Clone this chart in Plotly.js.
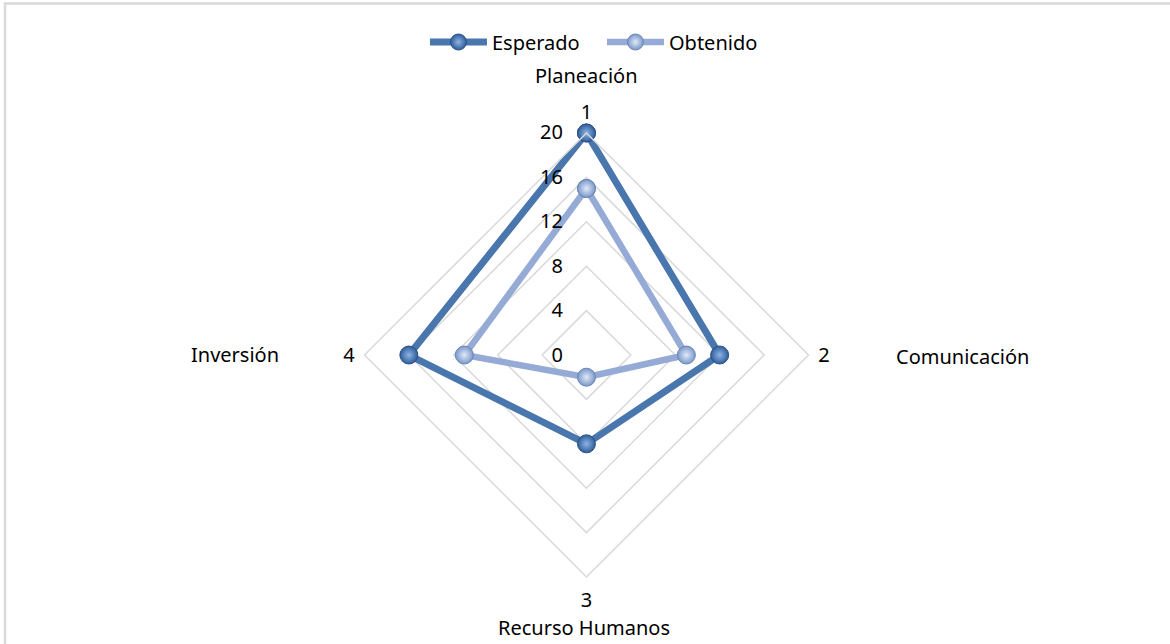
<!DOCTYPE html>
<html>
<head>
<meta charset="utf-8">
<script src="https://cdn.plot.ly/plotly-3.0.1.min.js"></script>
<style>html,body{margin:0;padding:0;background:#fff;}#chart{width:1170px;height:644px;}</style>
</head>
<body>
<div id="chart"></div>
<script>
var categories = ["1", "2", "3", "4"];
var categoryNames = ["Planeación", "Comunicación", "Recurso Humanos", "Inversión"];
var esperado = [20, 12, 8, 16];
var obtenido = [15, 9, 2, 11];
var radialTicks = [0, 4, 8, 12, 16, 20];

function closeLoop(a) { return a.concat([a[0]]); }

var FONT = "Noto Sans, Open Sans, sans-serif";

var traces = [
  {
    type: "scatterpolar",
    name: "Esperado",
    r: closeLoop(esperado),
    theta: closeLoop(categories),
    mode: "lines+markers",
    line: {color: "#4a76ae", width: 7},
    marker: {size: 18, color: "#2f5d99", line: {color: "#2a5289", width: 1},
             gradient: {type: "radial", color: "#8fb4e6"}},
    cliponaxis: false
  },
  {
    type: "scatterpolar",
    name: "Obtenido",
    r: closeLoop(obtenido),
    theta: closeLoop(categories),
    mode: "lines+markers",
    line: {color: "#95abd6", width: 6.5},
    marker: {size: 18, color: "#7b98c9", line: {color: "#6a86b6", width: 1},
             gradient: {type: "radial", color: "#dfe9f8"}},
    cliponaxis: false
  }
];

var pos = [
  {x: 586, y: 75},
  {x: 962, y: 356},
  {x: 584, y: 627},
  {x: 235, y: 354}
];
var annotations = categoryNames.map(function (n, i) {
  return {
    text: n, xref: "paper", yref: "paper",
    x: pos[i].x / 1170, y: 1 - pos[i].y / 644,
    xanchor: "center", yanchor: "middle", showarrow: false,
    font: {family: FONT, size: 20, color: "#000"}
  };
});

var layout = {
  width: 1170, height: 644,
  margin: {l: 0, r: 0, t: 0, b: 0},
  paper_bgcolor: "#fff",
  font: {family: FONT, size: 20, color: "#000"},
  showlegend: true,
  legend: {
    orientation: "h", x: 0.5145, xanchor: "center", y: 1 - 42 / 644, yanchor: "middle",
    itemwidth: 57, entrywidth: 105, font: {family: FONT, size: 20, color: "#000"},
    bgcolor: "rgba(0,0,0,0)", traceorder: "normal"
  },
  polar: {
    domain: {x: [0.3115, 0.6910], y: [0.104, 0.7935]},
    gridshape: "linear",
    bgcolor: "#fff",
    radialaxis: {
      range: [0, 20], tickvals: radialTicks, ticktext: radialTicks.map(String),
      angle: 90, side: "counterclockwise", tickangle: 90,
      showline: false, ticks: "outside", ticklen: 16, tickcolor: "rgba(0,0,0,0)", showgrid: true,
      gridcolor: "#d9d9d9", gridwidth: 1.5,
      tickfont: {family: FONT, size: 20, color: "#000"}
    },
    angularaxis: {
      type: "category", categoryarray: categories,
      rotation: 90, direction: "clockwise",
      showline: true, linecolor: "#d9d9d9", linewidth: 1.5,
      showgrid: false, ticks: "outside", ticklen: 5, tickcolor: "rgba(0,0,0,0)",
      tickfont: {family: FONT, size: 20, color: "#000"}
    }
  },
  annotations: annotations,
  shapes: [{
    type: "rect", xref: "paper", yref: "paper",
    x0: 5 / 1170, x1: 1.02, y0: -0.02, y1: 1 - 3.5 / 644,
    line: {color: "#d9d9d9", width: 2.5}, fillcolor: "rgba(0,0,0,0)", layer: "below"
  }]
};

Plotly.newPlot("chart", traces, layout, {displayModeBar: false, staticPlot: true});
</script>
</body>
</html>
